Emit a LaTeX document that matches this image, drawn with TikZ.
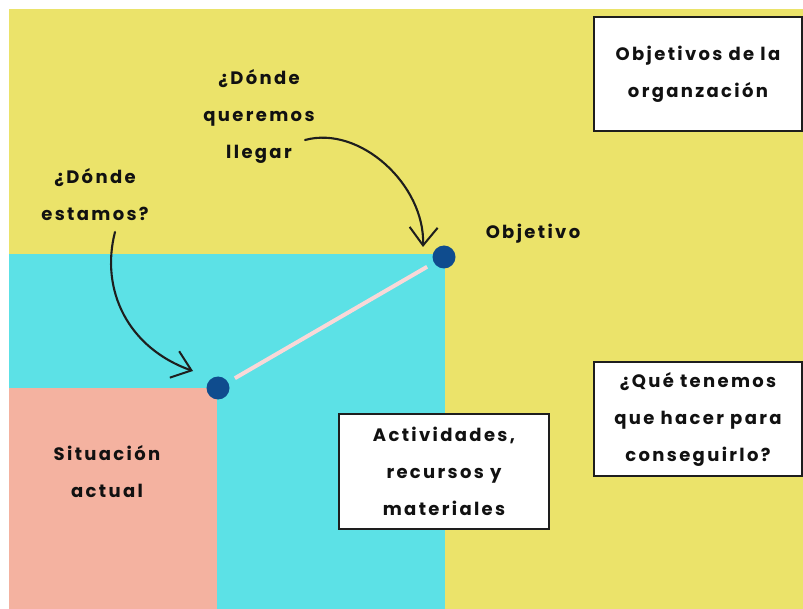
\documentclass[tikz,border=0pt]{standalone}
\usepackage{fontspec}
\usetikzlibrary{arrows.meta}
\newfontfamily\labfont{Poppins}[LetterSpace=13]
\definecolor{yel}{HTML}{EBE36A}
\definecolor{cyn}{HTML}{5CE1E6}
\definecolor{sal}{HTML}{F4B2A0}
\definecolor{dotblue}{HTML}{0F4C8E}
\definecolor{pinkline}{HTML}{F9D8D8}
\definecolor{ink}{HTML}{1E1E1E}
\definecolor{txt}{HTML}{111111}
\begin{document}
\begin{tikzpicture}[x=1pt,y=-1pt,
  lbl/.style={font=\labfont\bfseries\fontsize{18}{37}\selectfont, align=center, text=txt, inner sep=0pt},
  box/.style={lbl, draw=ink, line width=1.4pt, fill=white, inner sep=0pt},
  dot/.style={circle, fill=dotblue, minimum size=23pt, inner sep=0pt, outer sep=0pt},
  hand/.style={draw=ink, line width=2.1pt, line cap=round, -{Straight Barb[length=18pt,width=28pt,line width=2pt]}}]
\useasboundingbox (0,0) rectangle (803,609);
\fill[yel] (9,9) rectangle (803,609);
\fill[cyn] (9,254) rectangle (445,609);
\fill[sal] (9,388) rectangle (217,609);
% boxes
\node[box, minimum width=208pt, minimum height=114pt] (orgbox) at (698,74) {Objetivos de la\\organzación};
\node[box, minimum width=208pt, minimum height=114pt] (quebox) at (698,419) {¿Qué tenemos\\que hacer para\\conseguirlo?};
\node[box, minimum width=210pt, minimum height=115pt] (actbox) at (444,471.5) {Actividades,\\recursos y\\materiales};
% labels
\node[lbl] (q1) at (95,195) {¿Dónde\\estamos?};
\node[lbl] (q2) at (259,116.5) {¿Dónde\\queremos\\llegar};
\node[lbl] (sit) at (107,471.5) {Situación\\actual};
\node[lbl] (obj) at (533,234) {Objetivo};
% dots and line
\node[dot] (dotA) at (218,388) {};
\node[dot] (dotB) at (444,257) {};
\draw[pinkline, line width=4pt, shorten <=8pt, shorten >=8pt] (dotA) -- (dotB);
% arrows
\coordinate (a1s) at (115,232);
\coordinate (a1e) at (193,371);
\coordinate (a2s) at (305,140);
\coordinate (a2e) at (423,247);
\draw[hand] (a1s) .. controls (100,290) and (128,348) .. (a1e);
\draw[hand] (a2s) .. controls (360,125) and (425,185) .. (a2e);
\end{tikzpicture}
\end{document}
